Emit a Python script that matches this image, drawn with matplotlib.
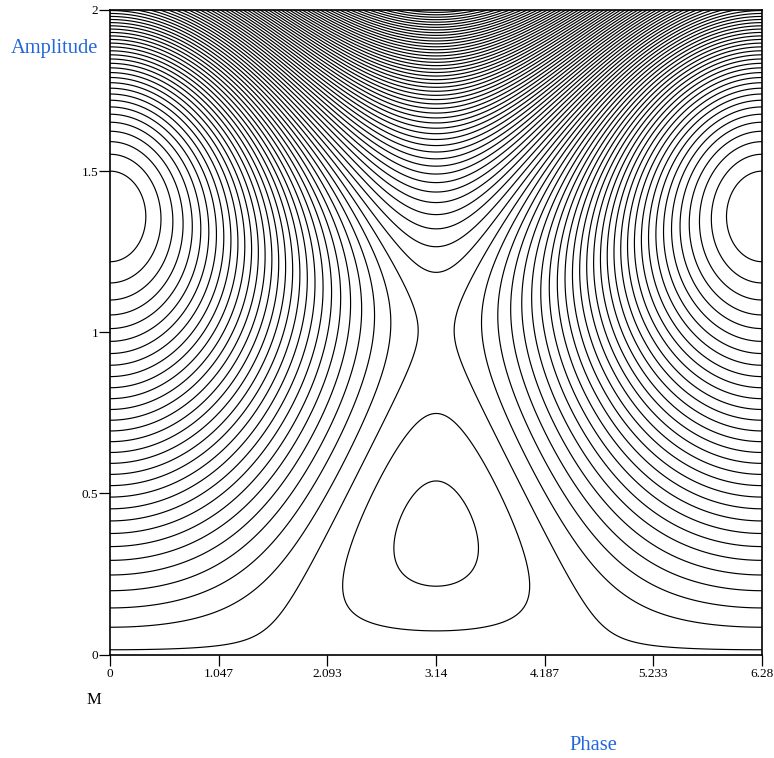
import numpy as np
import matplotlib
matplotlib.use("Agg")
import matplotlib.pyplot as plt

plt.rcParams['font.family'] = ['Liberation Serif', 'DejaVu Serif']

# slow-flow function of the forced oscillator: M = A^4 - d*A^2 - f*A*cos(phase)
detuning = 3.0
forcing = 2.0
# number of contour lines, evenly spread between the min and max of M
n_contours = 79

# axes ranges and tick labels
phase_max = 6.28
amp_max = 2.0
x_ticks = [0, 1.047, 2.093, 3.14, 4.187, 5.233, 6.28]
x_labels = ["0", "1.047", "2.093", "3.14", "4.187", "5.233", "6.28"]
y_ticks = [0, 0.5, 1, 1.5, 2]
y_labels = ["0", "0.5", "1", "1.5", "2"]

# grid
phase = np.linspace(0, phase_max, 700)
amp = np.linspace(0, amp_max, 700)
P, A = np.meshgrid(phase, amp)
M = A**4 - detuning * A**2 - forcing * A * np.cos(P)

levels = np.linspace(M.min(), M.max(), n_contours + 2)[1:-1]

W, H = 774, 758
fig = plt.figure(figsize=(W / 100, H / 100), dpi=100)
ax = fig.add_axes([110 / W, 1 - 654.5 / H, 652 / W, 644.5 / H])

ax.contour(P, A, M, levels=levels, colors='black', linewidths=0.85, linestyles='solid')

ax.set_xlim(0, phase_max)
ax.set_ylim(0, amp_max)
ax.set_xticks(x_ticks)
ax.set_xticklabels(x_labels)
ax.set_yticks(y_ticks)
ax.set_yticklabels(y_labels)
ax.tick_params(direction='out', length=7.8, width=0.9, labelsize=9.5, colors='black')
ax.tick_params(axis='x', pad=2)
ax.tick_params(axis='y', pad=0.5)
for s in ax.spines.values():
    s.set_linewidth(1.2)
    s.set_color('black')

# labels placed like the original worksheet
blue = '#2266dd'
fig.text(11 / W, 1 - 48 / H, "Amplitude", color=blue, fontsize=14.8, ha='left', va='center')
fig.text(569 / W, 1 - 746 / H, "Phase", color=blue, fontsize=14.8, ha='left', va='center')
fig.text(94 / W, 1 - 700 / H, "M", color='black', fontsize=12, ha='center', va='center')

fig.savefig("out.png", dpi=100)
